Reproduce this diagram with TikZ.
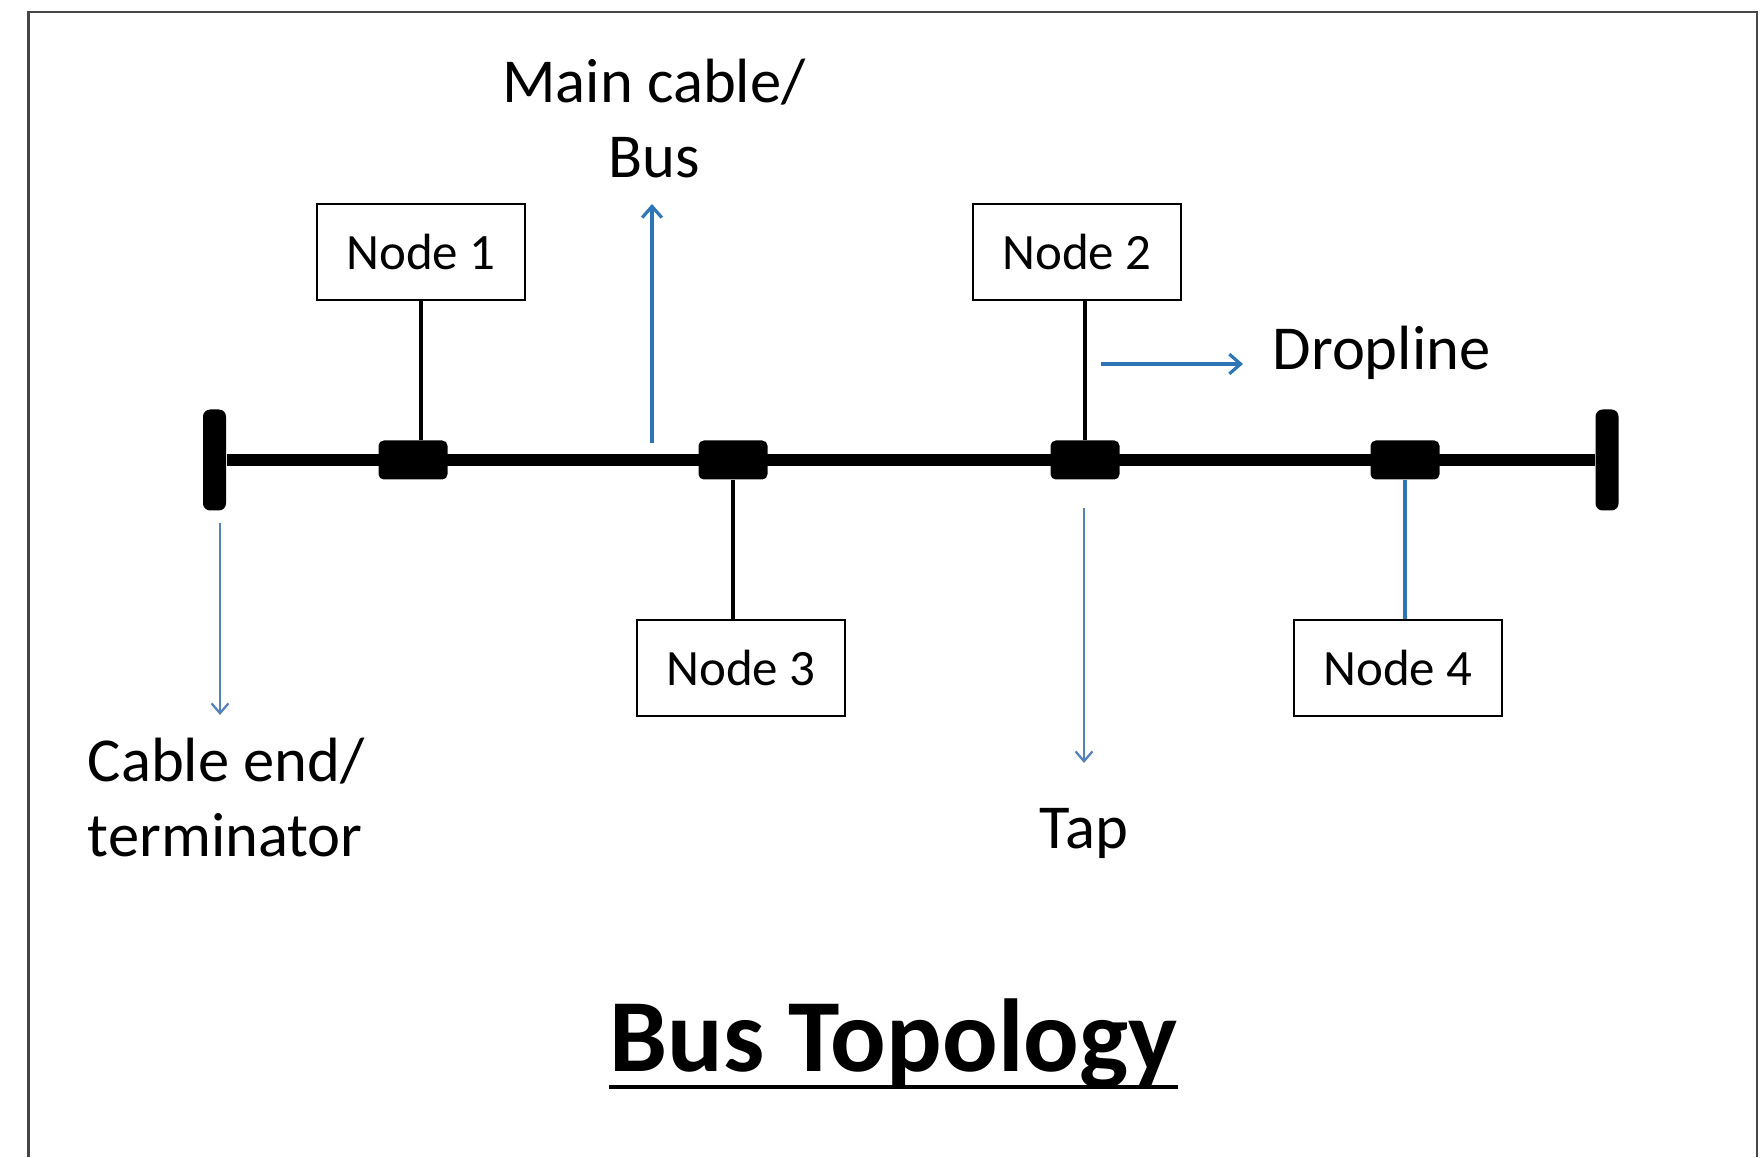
\documentclass[tikz,border=0pt]{standalone}
\usepackage{fontspec}
\setmainfont{Carlito}
\usepackage{tikz}
\usetikzlibrary{arrows.meta, positioning}

\definecolor{CalloutBlue}{RGB}{46,117,182}
\definecolor{TapBlue}{RGB}{84,130,185}
\definecolor{FrameGray}{RGB}{70,70,70}
\newcommand{\boxfont}{\fontsize{14.5}{17}\selectfont}
\newcommand{\notefont}{\fontsize{17.8}{21.3}\selectfont}

\begin{document}
\begin{tikzpicture}[
    stationbox/.style={draw, rectangle, line width=0.6pt, minimum width=2.08cm,
        minimum height=0.96cm, inner sep=0pt, font=\boxfont},
    dropstyle/.style={line width=0.9pt},
    tapstyle/.style={fill=black, rounded corners=1.5pt, inner sep=0pt,
        minimum width=0.69cm, minimum height=0.39cm},
    endstyle/.style={fill=black, rounded corners=2pt, inner sep=0pt,
        minimum width=0.23cm, minimum height=1.01cm},
    note/.style={inner sep=0pt, font=\notefont},
    callout/.style={-{Straight Barb[length=3.2pt, width=5.6pt]}, CalloutBlue, line width=0.9pt},
    thincallout/.style={-{Straight Barb[length=2.8pt, width=4.8pt]}, TapBlue, line width=0.65pt}]
    \useasboundingbox (0,0) rectangle (17.63,11.57);
    \draw[FrameGray, line width=0.7pt] (0.285,0) |- (17.57,11.45) -- (17.57,0);
    % bus with terminators and taps
    \node[endstyle] (e1) at (2.145,6.97) {};
    \node[tapstyle] (t1) at (4.13,6.97) {};
    \node[tapstyle, on grid, right=3.2cm of t1] (t2) {};
    \node[tapstyle, on grid, right=3.52cm of t2] (t3) {};
    \node[tapstyle, on grid, right=3.2cm of t3] (t4) {};
    \node[endstyle] (e2) at (16.07,6.97) {};
    \draw[line width=3.2pt] (e1) -- (e2);
    % stations
    \node[stationbox, on grid, above=2.08cm of t1, xshift=0.08cm] (n1) {Node 1};
    \node[stationbox, on grid, above=2.08cm of t3, xshift=-0.08cm] (n2) {Node 2};
    \node[stationbox, on grid, below=2.08cm of t2, xshift=0.08cm] (n3) {Node 3};
    \node[stationbox, on grid, below=2.08cm of t4, xshift=-0.07cm] (n4) {Node 4};
    \draw[dropstyle] (n1) -- (n1 |- t1.north);
    \draw[dropstyle] (t2.south) -- (t2.south |- n3.north);
    \draw[dropstyle] (t3.north) -- (t3.north |- n2.south);
    \draw[dropstyle, CalloutBlue] (t4.south) -- (t4.south |- n4.north);
    % labels
    \node[note, align=center, anchor=south] (lblMain) at (6.54,9.78) {Main cable/\\Bus};
    \node[note, anchor=base west] (lblDrop) at (12.72,7.87) {Dropline};
    \node[note, anchor=base] (lblTap) at (10.84,3.08) {Tap};
    \node[note, align=left, anchor=south west] (lblEnd) at (0.87,2.99) {Cable end/\\terminator};
    \coordinate (cMainA) at (6.52,7.14);
    \coordinate (cMainB) at (6.52,9.53);
    \coordinate (cDropA) at (11.01,7.93);
    \coordinate (cDropB) at (12.43,7.93);
    \coordinate (cTapA) at (10.84,6.49);
    \coordinate (cTapB) at (10.84,3.94);
    \coordinate (cEndA) at (2.20,6.34);
    \coordinate (cEndB) at (2.20,4.42);
    \draw[callout] (cMainA) -- (cMainB);
    \draw[callout] (cDropA) -- (cDropB);
    \draw[thincallout] (cTapA) -- (cTapB);
    \draw[thincallout] (cEndA) -- (cEndB);
    % title
    \node[inner sep=0pt, font=\fontsize{29.5}{35}\selectfont\bfseries, anchor=base] (title) at (8.935,0.855) {Bus Topology};
    \draw[line width=1.1pt] ([yshift=-0.155cm]title.base west) -- ([yshift=-0.155cm]title.base east);
\end{tikzpicture}
\end{document}
